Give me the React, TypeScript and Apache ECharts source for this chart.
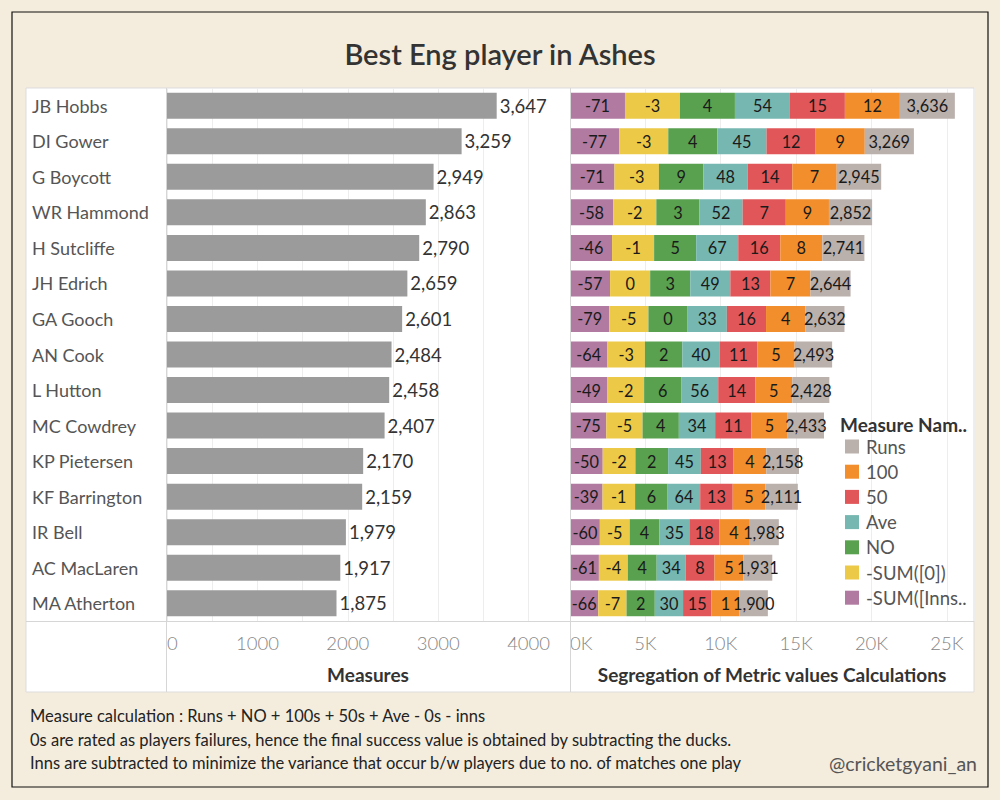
import React, { useEffect, useRef } from "react";
import * as echarts from "echarts";

const players = ["JB Hobbs", "DI Gower", "G Boycott", "WR Hammond", "H Sutcliffe", "JH Edrich", "GA Gooch", "AN Cook", "L Hutton", "MC Cowdrey", "KP Pietersen", "KF Barrington", "IR Bell", "AC MacLaren", "MA Atherton"];
const measures = [3647, 3259, 2949, 2863, 2790, 2659, 2601, 2484, 2458, 2407, 2170, 2159, 1979, 1917, 1875];
const innsNeg = [-71, -77, -71, -58, -46, -57, -79, -64, -49, -75, -50, -39, -60, -61, -66];
const zerosNeg = [-3, -3, -3, -2, -1, 0, -5, -3, -2, -5, -2, -1, -5, -4, -7];
const notOuts = [4, 4, 9, 3, 5, 3, 0, 2, 6, 4, 2, 6, 4, 4, 2];
const averages = [54, 45, 48, 52, 67, 49, 33, 40, 56, 34, 45, 64, 35, 34, 30];
const fifties = [15, 12, 14, 7, 16, 13, 16, 11, 14, 11, 13, 13, 18, 8, 15];
const hundreds = [12, 9, 7, 9, 8, 7, 4, 5, 5, 5, 4, 5, 4, 5, 1];
const runs = [3636, 3269, 2945, 2852, 2741, 2644, 2632, 2493, 2428, 2433, 2158, 2111, 1983, 1931, 1900];

const leftTicks = [0, 1000, 2000, 3000, 4000];
const rightTickLabels = ["0K", "5K", "10K", "15K", "20K", "25K"];

const metricNames = ["-SUM([Inns..", "-SUM([0])", "NO", "Ave", "50", "100", "Runs"];
const metricValues = [innsNeg, zerosNeg, notOuts, averages, fifties, hundreds, runs];
const metricColors = ["#b07aa1", "#edc948", "#59a14f", "#76b7b2", "#e15759", "#f28e2b", "#bab0ac"];
const legendOrder = ["Runs", "100", "50", "Ave", "NO", "-SUM([0])", "-SUM([Inns.."];

const footnotes = [
  "Measure calculation : Runs + NO + 100s + 50s + Ave - 0s - inns",
  "0s are rated as players failures, hence the final success value is obtained by subtracting the ducks.",
  "Inns are subtracted to minimize the variance that occur b/w players due to no. of matches one play",
];

const FONT = "Lato, 'Noto Sans', sans-serif";
const fmt = (v: number) => v.toLocaleString("en-US");

export default function App() {
  const ref = useRef<HTMLDivElement>(null);
  useEffect(() => {
    if (!ref.current) return;
    const chart = echarts.init(ref.current, null, { renderer: "svg" });
    const rightSeries = metricNames.map((name, i) => ({
      name,
      type: "bar",
      xAxisIndex: 1,
      yAxisIndex: 1,
      stack: "metric",
      barWidth: 26,
      data: measures,
      itemStyle: { color: metricColors[i] },
      label: {
        show: true,
        position: "inside",
        fontFamily: FONT,
        fontSize: 16.3,
        color: "#1a1a1a",
        formatter: (p: any) => fmt(metricValues[i][p.dataIndex]),
      },
    }));
    const tickLabel = {
      alignMinLabel: "left",
      margin: 12,
      fontSize: 18.5,
      fontWeight: 300,
      color: "#858585",
      fontFamily: FONT,
    };
    chart.setOption({
      animation: false,
      backgroundColor: "#f4ecdd",
      textStyle: { fontFamily: FONT },
      grid: [
        { left: 167, right: 430, top: 88, height: 533 },
        { left: 570, right: 26, top: 88, height: 533 },
      ],
      xAxis: [
        {
          gridIndex: 0,
          type: "value",
          min: 0,
          max: 4458,
          interval: 500,
          axisLine: { show: false },
          axisTick: { show: false },
          splitLine: { lineStyle: { color: "#ededed", width: 1 } },
          axisLabel: { ...tickLabel, formatter: (v: number) => (leftTicks.includes(v) ? String(v) : "") },
        },
        {
          gridIndex: 1,
          type: "value",
          min: 0,
          max: 26800,
          interval: 5000,
          axisLine: { show: false },
          axisTick: { show: false },
          splitLine: { lineStyle: { color: "#ededed", width: 1 } },
          axisLabel: { ...tickLabel, formatter: (v: number) => (v % 5000 === 0 ? rightTickLabels[v / 5000] : "") },
        },
      ],
      yAxis: [
        {
          gridIndex: 0,
          type: "category",
          data: players,
          inverse: true,
          axisLine: { show: false },
          axisTick: { show: false },
          axisLabel: { align: "left", margin: 135, fontSize: 18, color: "#555", fontFamily: FONT },
        },
        {
          gridIndex: 1,
          type: "category",
          data: players,
          inverse: true,
          show: false,
        },
      ],
      legend: {
        orient: "vertical",
        left: 840,
        top: 432,
        itemWidth: 14,
        itemHeight: 14,
        itemGap: 6.2,
        icon: "rect",
        data: legendOrder,
        selectedMode: false,
        textStyle: { fontSize: 18.5, color: "#555", fontFamily: FONT, padding: [0, 0, 0, 2] },
      },
      graphic: [
        { type: "rect", z: -10, shape: { x: 26, y: 88, width: 948, height: 604 }, style: { fill: "#ffffff", stroke: "#dddddd", lineWidth: 1 } },
        { type: "rect", z: 10, shape: { x: 12, y: 12, width: 976, height: 775 }, style: { fill: "none", stroke: "#111", lineWidth: 1.2 } },
        { type: "line", z: 10, shape: { x1: 166.5, y1: 88, x2: 166.5, y2: 692 }, style: { stroke: "#d6d6d6", lineWidth: 1 } },
        { type: "line", z: 10, shape: { x1: 570.5, y1: 88, x2: 570.5, y2: 692 }, style: { stroke: "#d6d6d6", lineWidth: 1 } },
        { type: "line", z: 10, shape: { x1: 26, y1: 621.5, x2: 974, y2: 621.5 }, style: { stroke: "#d6d6d6", lineWidth: 1 } },
        { type: "text", z: 10, x: 500, y: 53, style: { text: "Best Eng player in Ashes", font: `600 29px ${FONT}`, fill: "#333", textAlign: "center", textVerticalAlign: "middle" } },
        { type: "text", z: 10, x: 368, y: 674, style: { text: "Measures", font: `bold 19px ${FONT}`, fill: "#333", textAlign: "center", textVerticalAlign: "middle" } },
        { type: "text", z: 10, x: 772, y: 674, style: { text: "Segregation of Metric values Calculations", font: `bold 19px ${FONT}`, fill: "#333", textAlign: "center", textVerticalAlign: "middle" } },
        { type: "text", z: 10, x: 840, y: 424, style: { text: "Measure Nam..", font: `bold 19px ${FONT}`, fill: "#333", textAlign: "left", textVerticalAlign: "middle" } },
        ...footnotes.map((t, i) => ({
          type: "text",
          z: 10,
          x: 30,
          y: 716 + i * 23.5,
          style: { text: t, font: `16.5px ${FONT}`, fill: "#222", textAlign: "left", textVerticalAlign: "middle" },
        })),
        { type: "text", z: 10, x: 977, y: 763, style: { text: "@cricketgyani_an", font: `19.5px ${FONT}`, fill: "#555", textAlign: "right", textVerticalAlign: "middle" } },
      ],
      series: [
        {
          name: "Measures",
          type: "bar",
          xAxisIndex: 0,
          yAxisIndex: 0,
          barWidth: 26,
          data: measures,
          itemStyle: { color: "#9b9b9b" },
          label: {
            show: true,
            position: "right",
            distance: 3,
            fontSize: 18.5,
            color: "#333",
            fontFamily: FONT,
            formatter: (p: any) => fmt(p.value),
          },
        },
        ...rightSeries,
      ],
    });
    return () => chart.dispose();
  }, []);
  return <div ref={ref} style={{ position: "absolute", left: 0, top: 0, width: 1000, height: 800 }} />;
}
